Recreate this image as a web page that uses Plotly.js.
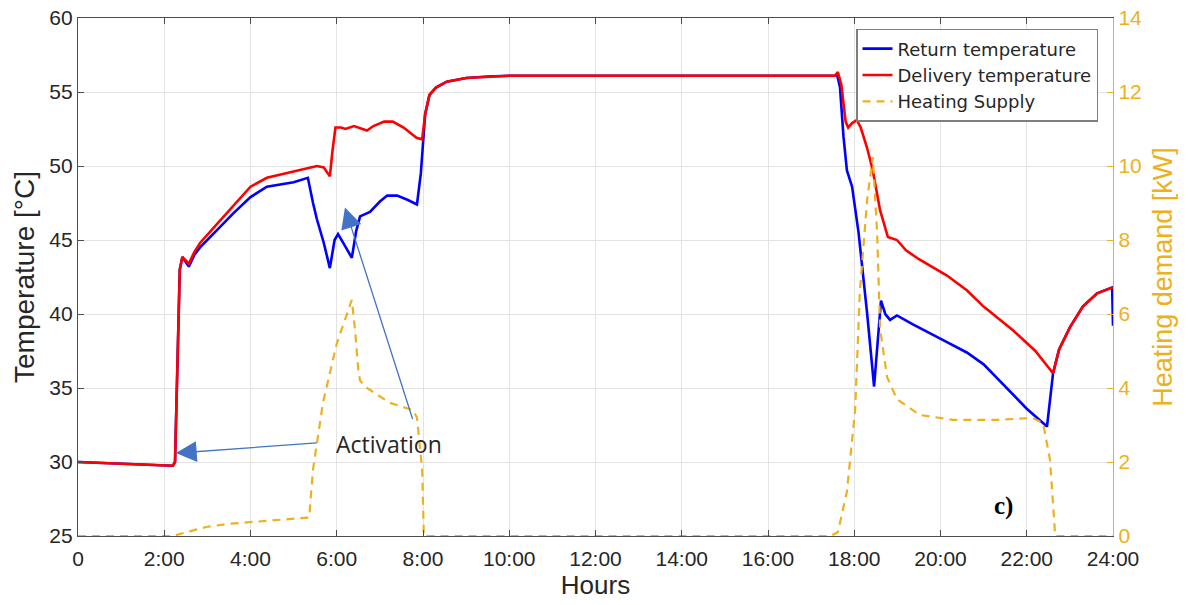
<!DOCTYPE html>
<html>
<head>
<meta charset="utf-8">
<script src="https://cdn.plot.ly/plotly-3.0.1.min.js"></script>
<style>
html,body{margin:0;padding:0;background:#fff;}
#chart{width:1189px;height:605px;}
</style>
</head>
<body>
<div id="chart"></div>
<script>
// ---- data (hours of the day) ----
const tickHours = [0,2,4,6,8,10,12,14,16,18,20,22,24];
const tickLabels = ["0","2:00","4:00","6:00","8:00","10:00","12:00","14:00","16:00","18:00","20:00","22:00","24:00"];

const returnHours = [0,1,2,2.2,2.25,2.3,2.36,2.42,2.47,2.57,2.7,2.83,3.2,3.6,4.0,4.38,5.0,5.33,5.45,5.54,5.7,5.84,5.95,6.03,6.15,6.35,6.45,6.54,6.77,7.0,7.17,7.4,7.65,7.86,7.95,8.0,8.05,8.15,8.3,8.55,9.0,9.5,10.0,17.55,17.6,17.67,17.75,17.83,17.95,18.1,18.3,18.46,18.55,18.62,18.72,18.83,18.99,19.36,20.15,20.61,21.0,21.4,22.0,22.47,22.61,22.75,23.0,23.3,23.63,23.98,24.0];
const returnTemp  = [30.0,29.9,29.8,29.75,30.0,36,43.0,43.85,43.6,43.2,44.0,44.5,45.6,46.8,47.9,48.6,48.9,49.2,47.5,46.4,44.8,43.1,45.0,45.4,44.8,43.8,45.6,46.6,46.9,47.6,48.0,48.0,47.7,47.4,49.5,51.8,53.5,54.8,55.3,55.7,55.95,56.05,56.1,56.1,56.2,55.3,52.0,49.7,48.6,45.5,40.0,35.1,38.5,40.9,40.0,39.6,39.9,39.3,38.1,37.4,36.6,35.4,33.6,32.4,36.0,37.6,39.1,40.5,41.4,41.8,39.2];

const deliveryHours = [0,1,2,2.2,2.25,2.3,2.36,2.42,2.5,2.57,2.7,2.83,3.2,3.6,4.0,4.38,5.0,5.54,5.7,5.84,5.9,5.97,6.1,6.2,6.4,6.7,6.85,7.1,7.3,7.55,7.85,7.98,8.05,8.15,8.3,8.55,9.0,9.5,10.0,17.55,17.62,17.7,17.8,17.86,17.95,18.06,18.15,18.3,18.43,18.6,18.78,18.99,19.2,19.5,20.15,20.61,21.0,21.68,22.2,22.61,22.75,23.0,23.3,23.63,24.0];
const deliveryTemp  = [30.0,29.9,29.8,29.75,30.0,36,43.0,43.85,43.6,43.4,44.2,44.8,46.0,47.3,48.6,49.2,49.6,50.0,49.9,49.3,51.0,52.6,52.6,52.5,52.7,52.4,52.7,53.0,53.0,52.6,51.9,51.8,53.5,54.8,55.3,55.7,55.95,56.05,56.1,56.1,56.35,55.5,53.0,52.6,52.9,53.1,52.6,51.2,49.7,47.0,45.2,45.0,44.3,43.7,42.6,41.6,40.5,38.9,37.5,36.0,37.6,39.1,40.5,41.4,41.8];

const supplyHours = [0,2.2,2.5,3.0,3.5,4.0,4.5,5.0,5.36,5.45,5.68,6.0,6.24,6.35,6.43,6.5,6.54,6.7,7.23,7.77,7.86,7.98,8.02,17.45,17.62,17.83,18.02,18.13,18.3,18.43,18.53,18.6,18.76,18.99,19.52,20.29,21.31,22.14,22.38,22.54,22.66,24];
const supplyKW    = [0,0,0.1,0.25,0.33,0.38,0.42,0.46,0.5,1.8,3.6,5.2,6.0,6.38,5.5,4.5,4.2,4.0,3.6,3.4,3.2,1.8,0,0,0.1,1.2,3.4,6.6,9.1,10.24,8.2,5.6,4.3,3.7,3.27,3.14,3.14,3.19,3.05,2.05,0,0];

// annotation anchor values (hours, °C)
const activationText = {h: 7.22, t: 31.2, label: "Activation"};
const arrow1 = {h: 2.27, t: 30.6, fromH: 5.57, fromT: 31.3};
const arrow2 = {h: 6.19, t: 47.2, fromH: 7.77, fromT: 32.8};
const panelLabel = {h: 21.45, t: 27.0, label: "c)"};

const ORANGE = "#EDB120";
const AXIS = "#4d4d4d";
const GRID = "#e3e3e3";
const FONT = "Liberation Sans, Arial, sans-serif";

const traces = [
  {x: returnHours, y: returnTemp, type: "scatter", mode: "lines", name: "Return temperature",
   line: {color: "#0000FF", width: 2.6}, yaxis: "y"},
  {x: deliveryHours, y: deliveryTemp, type: "scatter", mode: "lines", name: "Delivery temperature",
   line: {color: "#FF0000", width: 2.6}, yaxis: "y"},
  {x: supplyHours, y: supplyKW, type: "scatter", mode: "lines", name: "Heating Supply",
   line: {color: ORANGE, width: 2.2, dash: "8px,6px"}, yaxis: "y2"}
];

const layout = {
  width: 1189, height: 605,
  margin: {l: 78, r: 76, t: 18, b: 69},
  paper_bgcolor: "#fff", plot_bgcolor: "#fff",
  font: {family: FONT, color: "#262626"},
  showlegend: true,
  legend: {x: 0.7517, y: 0.979, xanchor: "left", yanchor: "top",
    bgcolor: "#fff", bordercolor: "#7f7f7f", borderwidth: 1.5,
    font: {size: 18, family: "DejaVu Sans, sans-serif", color: "#262626"}, tracegroupgap: 0},
  xaxis: {range: [0, 24], tickvals: tickHours, ticktext: tickLabels,
    showgrid: true, gridcolor: GRID, gridwidth: 1, zeroline: false,
    showline: true, linecolor: AXIS, linewidth: 1.2, mirror: "ticks",
    ticks: "inside", ticklen: 6, tickcolor: AXIS, ticklabelstandoff: 4,
    tickfont: {size: 21, color: "#262626"},
    title: {text: "Hours", font: {size: 26, color: "#262626"}, standoff: 6}},
  yaxis: {range: [25, 60], dtick: 5, tick0: 25,
    showgrid: true, gridcolor: GRID, gridwidth: 1, zeroline: false,
    showline: true, linecolor: AXIS, linewidth: 1.2,
    ticks: "inside", ticklen: 6, tickcolor: AXIS,
    tickfont: {size: 21, color: "#262626"},
    title: {text: "Temperature [°C]", font: {size: 28, color: "#262626"}, standoff: 6}},
  yaxis2: {range: [0, 14], dtick: 2, tick0: 0, overlaying: "y", side: "right",
    showgrid: false, zeroline: false,
    showline: true, linecolor: ORANGE, linewidth: 1.2,
    ticks: "inside", ticklen: 6, tickcolor: ORANGE,
    tickfont: {size: 21, color: ORANGE},
    title: {text: "Heating demand [kW]", font: {size: 27, color: ORANGE}, standoff: 12}},
  annotations: [
    {x: arrow1.h, y: arrow1.t, ax: arrow1.fromH, ay: arrow1.fromT, xref: "x", yref: "y", axref: "x", ayref: "y",
     text: "", showarrow: true, arrowhead: 2, arrowsize: 3.2, arrowwidth: 1.3, arrowcolor: "#4472C4"},
    {x: arrow2.h, y: arrow2.t, ax: arrow2.fromH, ay: arrow2.fromT, xref: "x", yref: "y", axref: "x", ayref: "y",
     text: "", showarrow: true, arrowhead: 2, arrowsize: 3.2, arrowwidth: 1.3, arrowcolor: "#4472C4"},
    {x: activationText.h, y: activationText.t, xref: "x", yref: "y", text: activationText.label, showarrow: false,
     font: {family: "Open Sans, Noto Sans, sans-serif", size: 23, color: "#262626"}},
    {x: panelLabel.h, y: panelLabel.t, xref: "x", yref: "y", text: "<b>" + panelLabel.label + "</b>", showarrow: false,
     font: {family: "Liberation Serif, Times New Roman, serif", size: 25, color: "#000"}}
  ]
};

Plotly.newPlot("chart", traces, layout, {displayModeBar: false, staticPlot: true});
</script>
</body>
</html>
